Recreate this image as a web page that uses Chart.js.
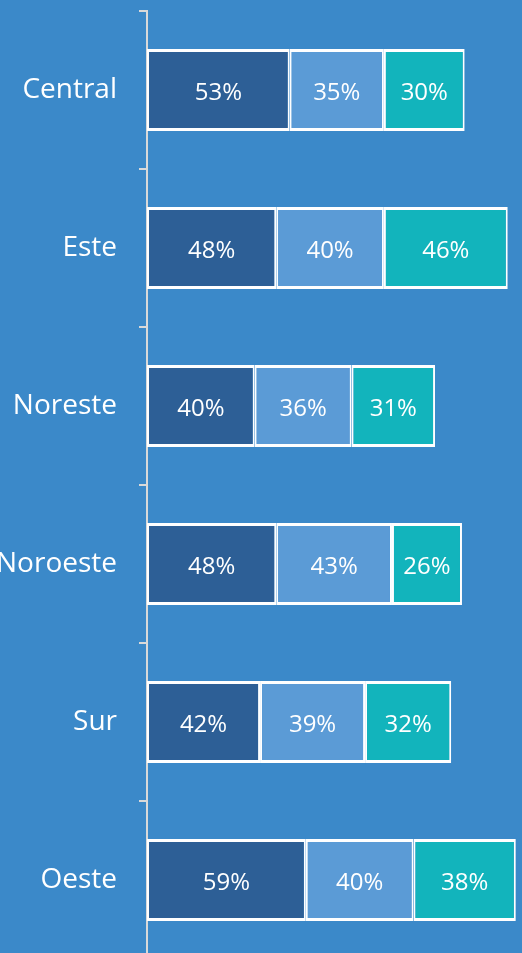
<!DOCTYPE html>
<html>
<head>
<meta charset="utf-8">
<script src="https://cdn.jsdelivr.net/npm/chart.js@4.4.1/dist/chart.umd.min.js"></script>
<style>
  html, body { margin: 0; padding: 0; background: #3b89c9; overflow: hidden; }
  #wrap { width: 522px; height: 960px; position: relative; }
</style>
</head>
<body>
<div id="wrap"><canvas id="chart"></canvas></div>
<script>
// Data
const regions = ["Central", "Este", "Noreste", "Noroeste", "Sur", "Oeste"];
const serieA = [53, 48, 40, 48, 42, 59];
const serieB = [35, 40, 36, 43, 39, 40];
const serieC = [30, 46, 31, 26, 32, 38];

// Draw the "NN%" text in the middle of each bar segment
const barLabels = {
  id: "barLabels",
  afterDatasetsDraw(chart) {
    const ctx = chart.ctx;
    ctx.save();
    ctx.fillStyle = "#ffffff";
    ctx.font = "24px 'Open Sans'";
    ctx.textAlign = "center";
    ctx.textBaseline = "middle";
    chart.data.datasets.forEach((ds, i) => {
      chart.getDatasetMeta(i).data.forEach((bar, j) => {
        const p = bar.getProps(["x", "y", "base"], true);
        ctx.fillText(ds.data[j] + "%", (p.x + p.base) / 2, p.y + 3);
      });
    });
    ctx.restore();
  },
};

const border = { top: 3, bottom: 3, left: 2, right: 2 };

new Chart(document.getElementById("chart"), {
  type: "bar",
  data: {
    labels: regions,
    datasets: [
      { data: serieA, backgroundColor: "#2d5f96", borderColor: "#ffffff", borderWidth: border, borderSkipped: false },
      { data: serieB, backgroundColor: "#5b9bd6", borderColor: "#ffffff", borderWidth: border, borderSkipped: false },
      { data: serieC, backgroundColor: "#12b4bc", borderColor: "#ffffff", borderWidth: border, borderSkipped: false },
    ],
  },
  options: {
    indexAxis: "y",
    responsive: true,
    maintainAspectRatio: false,
    animation: false,
    layout: { padding: { top: 11, bottom: 1, left: 0, right: 0 } },
    datasets: { bar: { barPercentage: 0.52, categoryPercentage: 1 } },
    plugins: { legend: { display: false }, tooltip: { enabled: false } },
    scales: {
      x: { stacked: true, display: false, min: 0, max: 139.3 },
      y: {
        stacked: true,
        afterFit(scale) {
          scale.width = 147;
          scale.paddingTop = 0;
          scale.paddingBottom = 0;
        },
        grid: { drawOnChartArea: false, tickLength: 8, color: "#d9d9d9", lineWidth: 2 },
        border: { color: "#d9d9d9", width: 2 },
        ticks: { color: "#ffffff", font: { family: "'Open Sans'", size: 28 }, padding: 22 },
      },
    },
  },
  plugins: [barLabels],
});
</script>
</body>
</html>
